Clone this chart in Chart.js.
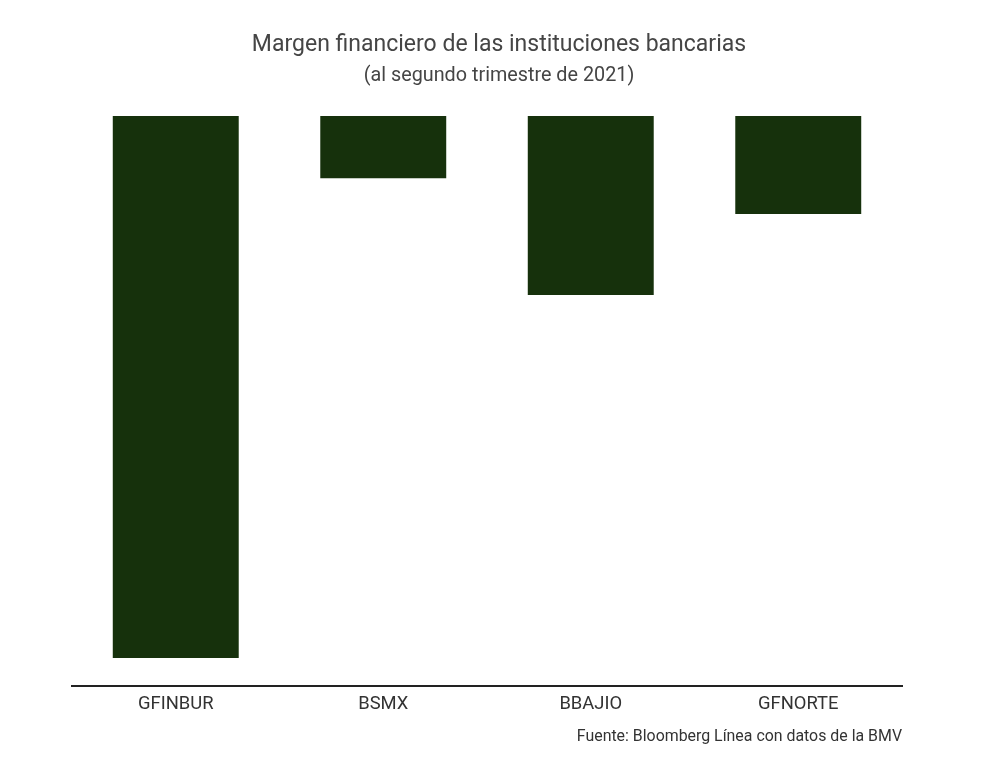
<!DOCTYPE html>
<html>
<head>
<meta charset="utf-8">
<script src="https://cdn.jsdelivr.net/npm/chart.js@4"></script>
<style>
  html, body { margin: 0; padding: 0; background: #fff; }
  #wrap { width: 1000px; height: 765px; }
</style>
</head>
<body>
<div id="wrap"><canvas id="chart"></canvas></div>
<script>
const categories = ['GFINBUR', 'BSMX', 'BBAJIO', 'GFNORTE'];
const margen     = [95.1, 10.9, 31.4, 17.2];
const titleText    = 'Margen financiero de las instituciones bancarias';
const subtitleText = '(al segundo trimestre de 2021)';
const sourceText   = 'Fuente: Bloomberg Línea con datos de la BMV';

const FONT = 'Roboto, "Noto Sans", sans-serif';

// titles and source note drawn straight onto the canvas
const textPlugin = {
  id: 'texts',
  afterDraw(chart) {
    const ctx = chart.ctx;
    ctx.save();
    ctx.textBaseline = 'middle';
    ctx.textAlign = 'center';
    ctx.fillStyle = '#454545';
    ctx.font = '23px ' + FONT;
    ctx.fillText(titleText, 499, 45);
    ctx.font = '19.8px ' + FONT;
    ctx.fillText(subtitleText, 499, 76);
    ctx.textAlign = 'right';
    ctx.font = '15.9px ' + FONT;
    ctx.fillStyle = '#333';
    ctx.fillText(sourceText, 902, 737);
    ctx.restore();
  }
};

new Chart(document.getElementById('chart'), {
  type: 'bar',
  data: {
    labels: categories,
    datasets: [{
      data: margen,
      backgroundColor: '#16310c',
      borderWidth: 0,
      barPercentage: 0.607,
      categoryPercentage: 1
    }]
  },
  options: {
    responsive: true,
    maintainAspectRatio: false,
    animation: false,
    layout: { padding: { top: 116, left: 72, right: 98, bottom: 0 } },
    plugins: { legend: { display: false }, title: { display: false }, tooltip: { enabled: false } },
    scales: {
      x: {
        grid: { display: false, drawTicks: false },
        border: { display: true, color: '#222', width: 2 },
        ticks: { padding: 7, color: '#333', font: { family: FONT, size: 18.4 } },
        afterFit: s => { s.height = 79; }
      },
      y: {
        display: false,
        reverse: true,
        min: 0,
        max: 100
      }
    }
  },
  plugins: [textPlugin]
});
</script>
</body>
</html>
